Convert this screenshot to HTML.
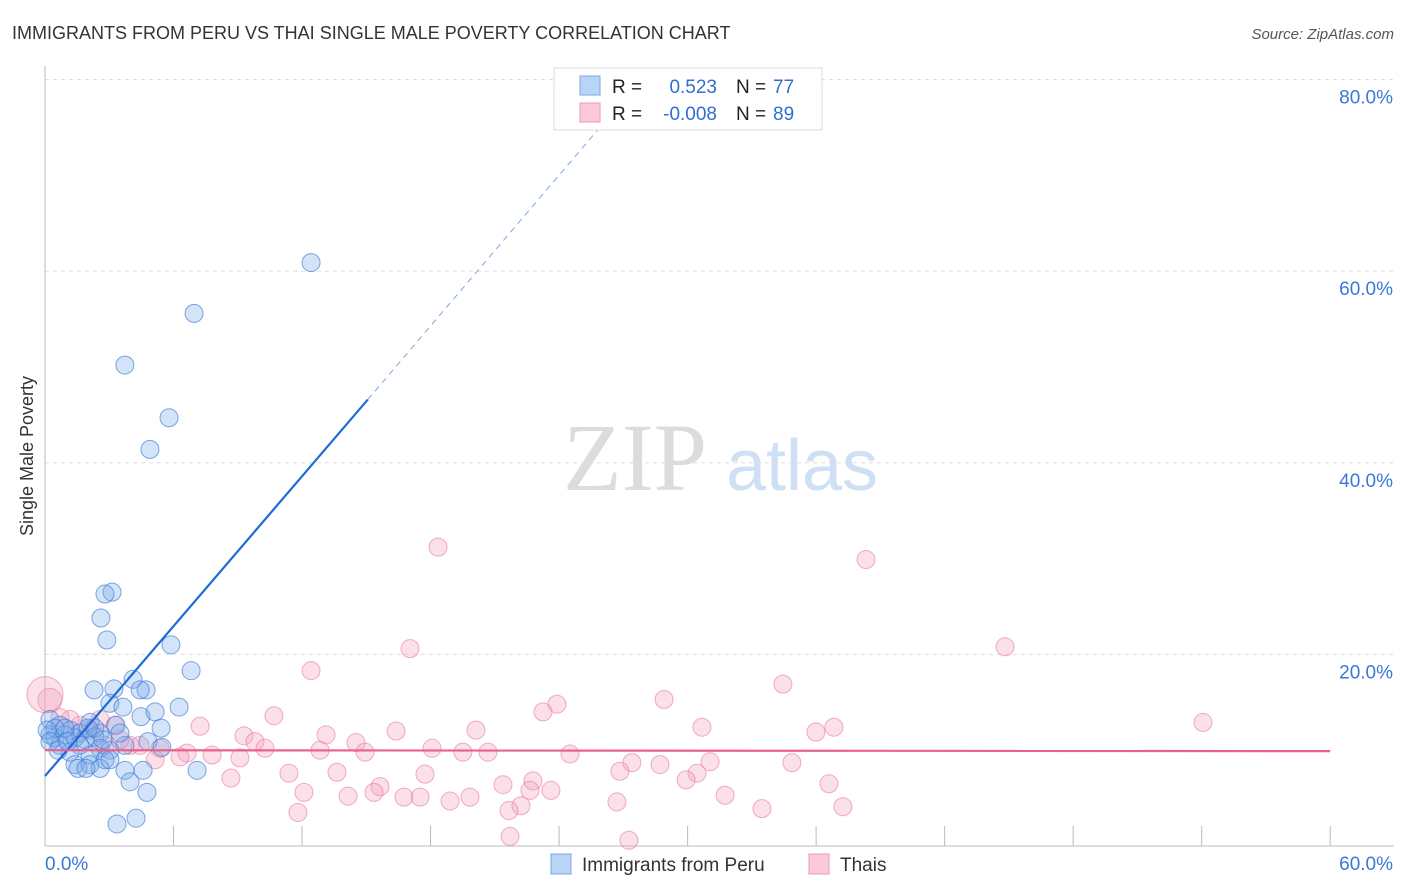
<!DOCTYPE html>
<html><head><meta charset="utf-8"><style>
body{margin:0;background:#fff;font-family:"Liberation Sans",sans-serif;}
svg{display:block}
</style></head><body>
<svg id="chart" width="1406" height="892">
<text x="12" y="39" font-size="18" fill="#333">IMMIGRANTS FROM PERU VS THAI SINGLE MALE POVERTY CORRELATION CHART</text>
<text x="1394" y="39" font-size="15" fill="#555" font-style="italic" text-anchor="end">Source: ZipAtlas.com</text>
<text x="33" y="456" font-size="18" fill="#333" text-anchor="middle" transform="rotate(-90 33 456)">Single Male Poverty</text>
<g>
<text x="635" y="490" font-size="96" font-family="Liberation Serif,serif" fill="#dcdcdc" text-anchor="middle">ZIP</text>
<text x="802" y="490" font-size="72" fill="#cfdff4" text-anchor="middle">atlas</text>
</g>
<g id="grid"></g><g id="axes"></g><g id="marks"></g>
<g>
<rect x="554" y="68" width="268" height="62" fill="#fff" stroke="#ddd"/>
<rect x="580" y="76" width="20" height="19" fill="#b8d4f6" stroke="#7aa7e2"/>
<rect x="580" y="103" width="20" height="19" fill="#fbc9d8" stroke="#ec98b2"/>
<text x="612" y="93" font-size="19" fill="#222">R = </text><text x="717" y="93" font-size="19" fill="#2f6fd0" text-anchor="end">0.523</text>
<text x="736" y="93" font-size="19" fill="#222">N = </text><text x="773" y="93" font-size="19" fill="#2f6fd0">77</text>
<text x="612" y="120" font-size="19" fill="#222">R = </text><text x="717" y="120" font-size="19" fill="#2f6fd0" text-anchor="end">-0.008</text>
<text x="736" y="120" font-size="19" fill="#222">N = </text><text x="773" y="120" font-size="19" fill="#2f6fd0">89</text>
</g>
<g>
<rect x="551" y="854" width="20" height="20" fill="#b8d4f6" stroke="#7aa7e2"/>
<text x="582" y="871" font-size="19" fill="#333">Immigrants from Peru</text>
<rect x="809" y="854" width="20" height="20" fill="#fbc9d8" stroke="#ec98b2"/>
<text x="840" y="871" font-size="19" fill="#333">Thais</text>
</g>
</svg>
<script>
const yTicks=[20,40,60,80];
const yTickLabels=["20.0%","40.0%","60.0%","80.0%"];
const xTicks=[0,6,12,18,24,30,36,42,48,54,60];
const peruX=[12.42,6.96,3.73,5.79,4.90,3.13,2.80,2.61,2.89,5.88,6.82,4.11,2.29,4.72,4.44,3.22,3.03,3.64,6.26,4.48,5.14,0.23,0.70,2.10,3.31,5.42,1.17,1.63,2.57,0.23,0.47,0.93,1.40,1.87,2.33,4.81,3.73,5.46,0.70,1.63,2.57,3.03,1.17,2.10,2.80,1.40,2.10,2.57,3.03,3.73,1.54,1.91,3.97,4.58,7.10,4.76,3.36,4.25,0.47,0.93,0.1,0.23,0.61,1.07,2.01,2.33,2.71,3.50];
const peruY=[60.9,55.6,50.2,44.7,41.4,26.5,26.3,23.8,21.5,21.0,18.3,17.4,16.3,16.3,16.3,16.4,14.9,14.5,14.5,13.5,14.0,13.2,12.6,12.9,12.6,12.3,12.1,11.8,11.8,11.6,11.3,11.6,11.3,11.1,11.4,10.9,10.5,10.3,10.5,10.5,10.2,10.0,9.8,9.5,9.0,8.5,8.5,8.1,9.0,7.9,8.1,8.1,6.7,7.9,7.9,5.6,2.3,2.9,12.3,12.3,12.1,10.9,10.0,10.9,12.3,12.3,11.1,11.8];
const thaiX=[18.35,38.33,44.82,17.04,12.42,34.45,28.90,23.90,23.25,10.69,54.06,36.83,35.99,30.67,20.12,16.39,13.12,7.24,9.29,9.80,14.52,18.07,19.51,14.94,20.68,12.84,10.27,7.80,9.10,24.51,6.63,6.30,5.14,5.37,3.97,3.50,2.80,2.10,1.63,1.17,0.70,0.23,0,27.40,28.71,31.05,34.87,30.44,29.93,26.84,17.74,13.63,11.39,8.68,21.38,22.78,22.64,23.62,15.64,15.36,12.09,14.15,16.76,17.51,18.91,19.84,22.22,21.66,26.70,31.75,33.47,36.60,37.25,11.81,21.71,27.26,4.44,3.27,2.57];
const thaiY=[31.2,29.9,20.8,20.6,18.3,16.9,15.3,14.8,14.0,13.6,12.9,12.4,11.9,12.4,12.1,12.0,11.6,12.5,11.5,10.9,10.8,10.2,9.8,9.8,9.8,10.0,10.2,9.5,9.2,9.6,9.7,9.3,9.0,10.2,10.5,11.1,10.5,12.1,12.6,13.2,13.4,15.2,15.8,8.7,8.5,8.8,8.7,7.6,6.9,7.8,7.5,7.7,7.6,7.1,6.4,6.8,5.8,5.8,6.2,5.6,5.6,5.2,5.1,5.1,4.7,5.1,4.2,3.7,4.6,5.3,3.9,6.5,4.1,3.5,1.0,0.6,10.5,12.6,13.2];
const peruTrend=[[0,7.3],[15.07,46.6],[25.9,75.0]];
const thaiTrend=[[0,10.0],[60,9.9]];
const X=v=>45+v*21.42, Y=v=>846-v*9.58;
const NS='http://www.w3.org/2000/svg';
function mk(p,t,a){const e=document.createElementNS(NS,t);for(const k in a)e.setAttribute(k,a[k]);p.appendChild(e);return e;}
const grid=document.getElementById('grid'),axes=document.getElementById('axes'),marks=document.getElementById('marks');
yTicks.forEach((t,i)=>{
 const l=mk(grid,'line',{x1:45,x2:1394,y1:Y(t),y2:Y(t),stroke:'#ddd','stroke-dasharray':'4,4'});
 
 
 const tx=mk(axes,'text',{x:1393,y:Y(t)+24,'font-size':19,fill:'#3a78d8','text-anchor':'end'});
 tx.textContent=yTickLabels[i];
 
 
});
const ax=mk(axes,'line',{x1:45,x2:45,y1:66,y2:846,stroke:'#bbb'});


const bx=mk(axes,'line',{x1:45,x2:1394,y1:846,y2:846,stroke:'#bbb'});


xTicks.forEach(t=>{const l=mk(axes,'line',{x1:X(t),x2:X(t),y1:826,y2:846,stroke:'#bbb'});
 
 });
const x0=mk(axes,'text',{x:45,y:870,'font-size':19,fill:'#3a78d8'});x0.textContent='0.0%';


const x1=mk(axes,'text',{x:1393,y:870,'font-size':19,fill:'#3a78d8','text-anchor':'end'});x1.textContent='60.0%';


thaiX.forEach((v,i)=>{const r=i===42?18:(i===41?12:9);
 const c=mk(marks,'circle',{cx:X(v),cy:Y(thaiY[i]),r:r,fill:'rgba(244,160,188,0.33)',stroke:'rgba(232,120,156,0.6)','stroke-width':1});
 
 });
peruX.forEach((v,i)=>{const c=mk(marks,'circle',{cx:X(v),cy:Y(peruY[i]),r:9,fill:'rgba(120,170,235,0.33)',stroke:'rgba(60,120,215,0.65)','stroke-width':1});
 
 });
const pl=mk(marks,'line',{x1:X(peruTrend[0][0]),y1:Y(peruTrend[0][1]),x2:X(peruTrend[1][0]),y2:Y(peruTrend[1][1]),stroke:'#1f6bd6','stroke-width':2.2});


const pd=mk(marks,'line',{x1:X(peruTrend[1][0]),y1:Y(peruTrend[1][1]),x2:X(peruTrend[2][0]),y2:Y(peruTrend[2][1]),stroke:'#7fa6e0','stroke-width':1,'stroke-dasharray':'6,5'});


const tl=mk(marks,'line',{x1:X(thaiTrend[0][0]),y1:Y(thaiTrend[0][1]),x2:X(thaiTrend[1][0]),y2:Y(thaiTrend[1][1]),stroke:'#e8628c','stroke-width':2.2});


</script>
</body></html>
